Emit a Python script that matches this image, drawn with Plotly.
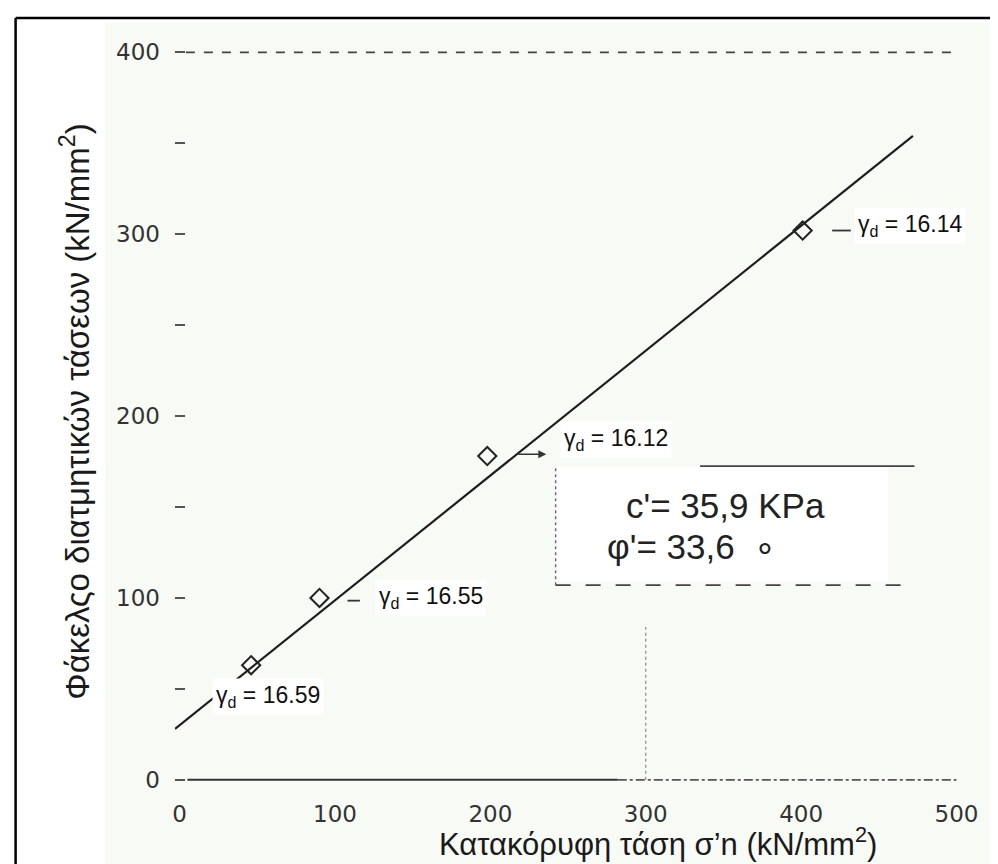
import plotly.graph_objects as go

# ---- data ----
sigma_n = [46, 90, 198, 401]          # vertical stress (x)
tau = [63, 100, 178, 302]             # shear stress (y)
gamma_d = ["16.59", "16.55", "16.12", "16.14"]
fit_x = [-3, 472]
fit_y = [28, 354]
x_ticks = [0, 100, 200, 300, 400, 500]
y_ticks = [0, 50, 100, 150, 200, 250, 300, 350, 400]
y_ticktext = ["0", "", "100", "", "200", "", "300", "", "400"]
c_text = "c'= 35,9 KPa"
phi_text = "φ'= 33,6&nbsp;&nbsp;∘"
x_title = "Κατακόρυφη τάση σ’n (kN/mm<sup>2</sup>)"
y_title = "Φάκελςο διατμητικών τάσεων (kN/mm<sup>2</sup>)"

FONT = "Liberation Sans, Arial, sans-serif"
TICKFONT = "DejaVu Sans, sans-serif"

fig = go.Figure()
fig.add_trace(go.Scatter(x=fit_x, y=fit_y, mode="lines",
                         line=dict(color="#1e1e1e", width=2.2), showlegend=False,
                         hoverinfo="skip"))
fig.add_trace(go.Scatter(x=sigma_n, y=tau, mode="markers",
                         marker=dict(symbol="diamond-open", size=14, color="#222",
                                     line=dict(width=2, color="#222")),
                         showlegend=False))

shapes = []
shapes.append(dict(type="rect", xref="paper", yref="paper", x0=-0.088, x1=1.06,
                   y0=-0.11, y1=1.003, fillcolor="#f8fbf5", line=dict(width=0),
                   layer="below"))
shapes.append(dict(type="rect", xref="x", yref="y", x0=242, x1=456, y0=109, y1=172,
                   fillcolor="white", line=dict(width=0), layer="below"))
shapes.append(dict(type="line", xref="x", yref="y", x0=4, x1=499, y0=400, y1=400,
                   line=dict(color="#444", width=1.8, dash="dash")))
shapes.append(dict(type="line", xref="x", yref="y", x0=5, x1=282, y0=0, y1=0,
                   line=dict(color="#333", width=2)))
shapes.append(dict(type="line", xref="x", yref="y", x0=282, x1=500, y0=0, y1=0,
                   line=dict(color="#555", width=1.8, dash="dashdot")))
shapes.append(dict(type="line", xref="x", yref="y", x0=300, x1=300, y0=0, y1=84,
                   line=dict(color="#888", width=1.2, dash="dot")))
shapes.append(dict(type="line", xref="x", yref="y", x0=335, x1=473, y0=172.5, y1=172.5,
                   line=dict(color="#444", width=1.8)))
shapes.append(dict(type="line", xref="x", yref="y", x0=242, x1=242, y0=107, y1=173,
                   line=dict(color="#666", width=1.4, dash="dot")))
shapes.append(dict(type="line", xref="x", yref="y", x0=242, x1=468, y0=107, y1=107,
                   line=dict(color="#444", width=1.8, dash="longdash")))
shapes.append(dict(type="line", xref="x", yref="y", x0=420, x1=432, y0=302, y1=302,
                   line=dict(color="#333", width=1.8)))
shapes.append(dict(type="line", xref="x", yref="y", x0=108, x1=116, y0=98.5, y1=98.5,
                   line=dict(color="#333", width=1.8)))
shapes.append(dict(type="line", xref="paper", yref="paper", x0=-0.2, x1=-0.2, y0=-0.1, y1=1.009,
                   line=dict(color="black", width=2.5)))
shapes.append(dict(type="line", xref="paper", yref="paper", x0=-0.2, x1=1.05, y0=1.009, y1=1.009,
                   line=dict(color="black", width=2.5)))

ann = []
label_pos = [(21, 46), (125.5, 100), (245, 187), (434, 304.6)]
for (lx, ly), g in zip(label_pos, gamma_d):
    ann.append(dict(x=lx, y=ly, xref="x", yref="y", xanchor="left", yanchor="middle",
                    text=f"γ<sub>d</sub> = {g}", showarrow=False,
                    font=dict(family=FONT, size=23, color="#111"),
                    bgcolor="white", borderpad=3))
ann.append(dict(x=236, y=179, ax=217, ay=179, xref="x", yref="y", axref="x", ayref="y",
                text="", showarrow=True, arrowhead=2, arrowsize=1, arrowwidth=1.6,
                arrowcolor="#333"))
ann.append(dict(x=286, y=151, xref="x", yref="y", xanchor="left", yanchor="middle",
                text=c_text, showarrow=False, font=dict(family=FONT, size=35, color="#222")))
ann.append(dict(x=273.5, y=128.5, xref="x", yref="y", xanchor="left", yanchor="middle",
                text=phi_text, showarrow=False, font=dict(family=FONT, size=35, color="#222")))
ann.append(dict(x=0.606, y=-0.057, xref="paper", yref="paper", xanchor="center",
                yanchor="middle", text=x_title, showarrow=False, borderpad=0,
                font=dict(family=FONT, size=31, color="#1a1a1a")))

fig.update_layout(
    width=998, height=864,
    margin=dict(l=167, r=34, t=17, b=74),
    paper_bgcolor="white", plot_bgcolor="#f8fbf5",
    shapes=shapes, annotations=ann,
    font=dict(family=FONT, color="#222"),
)
fig.update_xaxes(range=[-3, 510], tickvals=x_ticks, ticks="", showgrid=False,
                 zeroline=False, showline=False, ticklabelstandoff=0,
                 tickfont=dict(family=TICKFONT, size=23, color="#333"))
fig.update_yaxes(range=[-10, 415], tickvals=y_ticks, ticktext=y_ticktext,
                 ticks="inside", ticklen=10, tickwidth=2, tickcolor="#555",
                 showgrid=False, zeroline=False, showline=False, ticklabelstandoff=14,
                 tickfont=dict(family=TICKFONT, size=23, color="#333"),
                 title=dict(text=y_title,
                            font=dict(family=FONT, size=33, color="#1a1a1a"), standoff=16))

fig.write_html("out.html")
